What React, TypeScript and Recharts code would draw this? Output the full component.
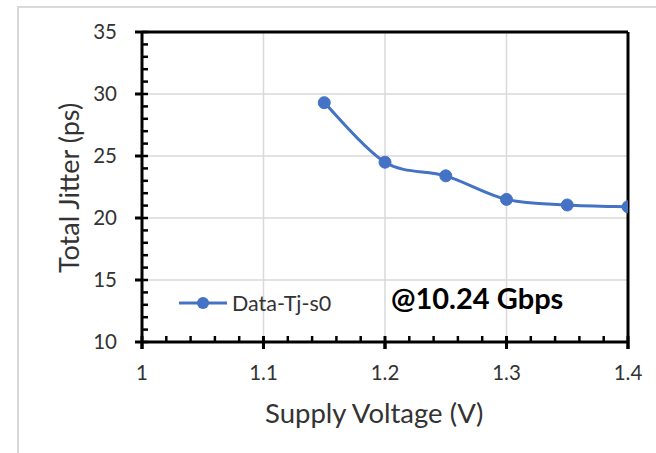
import { LineChart, Line, XAxis, YAxis, CartesianGrid, ReferenceLine } from "recharts";

const voltages = [1.15, 1.2, 1.25, 1.3, 1.35, 1.4];
const jitter = [29.3, 24.5, 23.4, 21.5, 21.05, 20.9];
const xTicks = [1, 1.1, 1.2, 1.3, 1.4];
const xMinorTicks = [1.02, 1.04, 1.06, 1.08, 1.12, 1.14, 1.16, 1.18, 1.22, 1.24, 1.26, 1.28, 1.32, 1.34, 1.36, 1.38];
const yTicks = [10, 15, 20, 25, 30, 35];
const yMinorTicks = [10, 11, 12, 13, 14, 15, 16, 17, 18, 19, 20, 21, 22, 23, 24, 25, 26, 27, 28, 29, 30, 31, 32, 33, 34, 35];

const data = voltages.map((v, i) => ({ v, tj: jitter[i] }));

const FONT = "Lato, 'Open Sans', sans-serif";
const TEXT = "#333";
const BLUE = "#4472C4";

const NoLabel = () => <g />;

// Excel-like smoothed line (Catmull-Rom through the points)
function excelSmooth(context: any) {
  let pts: number[][] = [];
  return {
    areaStart() {},
    areaEnd() {},
    lineStart() {
      pts = [];
    },
    point(x: number, y: number) {
      pts.push([+x, +y]);
    },
    lineEnd() {
      if (!pts.length) return;
      context.moveTo(pts[0][0], pts[0][1]);
      for (let i = 0; i < pts.length - 1; i++) {
        const p0 = pts[i - 1] || pts[i];
        const p1 = pts[i];
        const p2 = pts[i + 1];
        const p3 = pts[i + 2] || p2;
        context.bezierCurveTo(
          p1[0] + (p2[0] - p0[0]) / 6,
          p1[1] + (p2[1] - p0[1]) / 6,
          p2[0] - (p3[0] - p1[0]) / 6,
          p2[1] - (p3[1] - p1[1]) / 6,
          p2[0],
          p2[1]
        );
      }
    },
  };
}

// short tick at the bottom of a vertical reference line
const MinorXTick = (p: any) => {
  const yb = Math.max(p.y1, p.y2);
  return <line x1={p.x1} x2={p.x1} y1={yb} y2={yb - 6} stroke="#000" strokeWidth={2.5} />;
};
const MajorXTick = (p: any) => {
  const yb = Math.max(p.y1, p.y2);
  return <line x1={p.x1} x2={p.x1} y1={yb + 7} y2={yb - 6} stroke="#000" strokeWidth={3} />;
};

export default function App() {
  return (
    <div style={{ position: "absolute", left: 0, top: 0, width: 656, height: 453, background: "#fff", overflow: "hidden" }}>
      <div style={{ position: "absolute", left: 17, top: 6, width: 650, height: 460, borderTop: "2px solid #d9d9d9", borderLeft: "2px solid #d9d9d9" }} />
      <LineChart width={656} height={453} data={data} margin={{ top: 32, right: 28, left: 0, bottom: 0 }}>
        <CartesianGrid stroke="#d9d9d9" strokeWidth={1.5} />
        <XAxis
          dataKey="v"
          type="number"
          domain={[1, 1.4]}
          ticks={xTicks}
          height={111}
          tickSize={7}
          tickMargin={16}
          axisLine={{ stroke: "#000", strokeWidth: 3 }}
          tickLine={{ stroke: "#000", strokeWidth: 3 }}
          tick={{ fontSize: 20.5, fill: TEXT, fontFamily: FONT }}
          allowDataOverflow
        />
        <YAxis
          type="number"
          domain={[10, 35]}
          ticks={yTicks}
          width={142}
          tickSize={7}
          tickMargin={18}
          axisLine={{ stroke: "#000", strokeWidth: 3 }}
          tickLine={{ stroke: "#000", strokeWidth: 3 }}
          tick={{ fontSize: 20.5, fill: TEXT, fontFamily: FONT }}
          allowDataOverflow
        />
        <YAxis
          yAxisId="minor"
          type="number"
          domain={[10, 35]}
          ticks={yMinorTicks}
          interval={0}
          mirror
          width={1}
          tickSize={6}
          axisLine={false}
          tickLine={{ stroke: "#000", strokeWidth: 2.5 }}
          tick={NoLabel}
          allowDataOverflow
        />
        {xMinorTicks.map((x) => (
          <ReferenceLine key={`mn${x}`} x={x} ifOverflow="visible" shape={MinorXTick} />
        ))}
        {xTicks.map((x) => (
          <ReferenceLine key={`mj${x}`} x={x} ifOverflow="visible" shape={MajorXTick} />
        ))}
        <ReferenceLine y={35} stroke="#000" strokeWidth={3} />
        <ReferenceLine x={1.4} stroke="#000" strokeWidth={3} />
        <Line
          yAxisId="minor"
          dataKey="tj"
          stroke="none"
          dot={false}
          legendType="none"
          isAnimationActive={false}
        />
        <Line
          dataKey="tj"
          name="Data-Tj-s0"
          type={excelSmooth as any}
          stroke={BLUE}
          strokeWidth={3}
          dot={{ r: 6, fill: BLUE, stroke: BLUE, strokeWidth: 1 }}
          isAnimationActive={false}
        />
      </LineChart>
      <div style={{ position: "absolute", left: 177, top: 290, display: "flex", alignItems: "center", fontFamily: FONT, fontSize: 21.5, color: TEXT, whiteSpace: "nowrap" }}>
        <svg width={52} height={16}>
          <line x1={2} y1={8} x2={50} y2={8} stroke={BLUE} strokeWidth={3} />
          <circle cx={26} cy={8} r={6} fill={BLUE} />
        </svg>
        <span style={{ marginLeft: 3 }}>Data-Tj-s0</span>
      </div>
      <div style={{ position: "absolute", left: 391, top: 280, fontFamily: FONT, fontSize: 29, fontWeight: 700, color: "#000", whiteSpace: "nowrap" }}>
        @10.24 Gbps
      </div>
      <div style={{ position: "absolute", left: 265, top: 396, fontFamily: FONT, fontSize: 27.5, color: TEXT, whiteSpace: "nowrap" }}>
        Supply Voltage (V)
      </div>
      <div
        style={{
          position: "absolute",
          left: 68,
          top: 188,
          transform: "translate(-50%, -50%) rotate(-90deg)",
          fontFamily: FONT,
          fontSize: 27,
          color: TEXT,
          whiteSpace: "nowrap",
        }}
      >
        Total Jitter (ps)
      </div>
    </div>
  );
}
